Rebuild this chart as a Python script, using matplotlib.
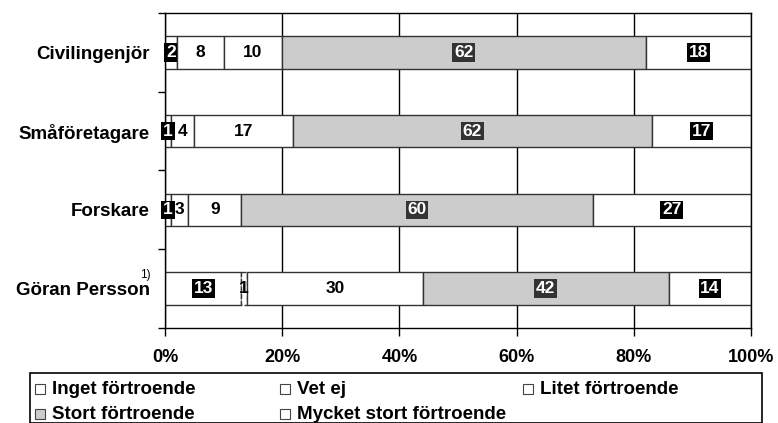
import numpy as np
import matplotlib.pyplot as plt
from matplotlib.patches import Rectangle

plt.rcParams['font.family'] = ['Liberation Sans', 'DejaVu Sans']
plt.rcParams['font.weight'] = 'bold'

# data
groups = ['Civilingenjör', 'Småföretagare', 'Forskare', 'Göran Persson']
series = ['Inget förtroende', 'Vet ej', 'Litet förtroende', 'Stort förtroende', 'Mycket stort förtroende']
inget = [2, 1, 1, 13]
vet_ej = [8, 4, 3, 1]
litet = [10, 17, 9, 30]
stort = [62, 62, 60, 42]
mycket = [18, 17, 27, 14]
xticks = [0, 20, 40, 60, 80, 100]

fills = ['white', 'white', 'white', '#cccccc', 'white']
lab_box = ['black', None, None, '#333333', 'black']
lab_col = ['white', 'black', 'black', 'white', 'white']

vals = np.array([inget, vet_ej, litet, stort, mycket], dtype=float)
pct = vals / vals.sum(axis=0) * 100  # 100% stacked, like excel

fig = plt.figure(figsize=(7.78, 4.23), dpi=100)
ax = fig.add_axes([165/778, 1-328/423, (751-165)/778, (328-13)/423])

y = np.arange(len(groups))
left = np.zeros(len(groups))
for i in range(len(series)):
    for j in range(len(groups)):
        ls = '--' if (i == 1 and groups[j] == 'Göran Persson') else '-'
        ax.barh(y[j], pct[i, j], left=left[j], height=0.41, color=fills[i],
                edgecolor='#333333', linewidth=1, linestyle=ls, zorder=2)
        cx = left[j] + pct[i, j] / 2
        if lab_box[i] is not None:
            bb = dict(boxstyle='square,pad=0.1', fc=lab_box[i], ec='none')
        else:
            bb = None
        ax.text(cx, y[j], '%d' % vals[i, j], ha='center', va='center',
                fontsize=12.5, fontweight='bold', color=lab_col[i], bbox=bb, zorder=4)
    left += pct[i]

ax.set_xlim(0, 100)
ax.set_ylim(len(groups) - 0.5, -0.5)
ax.set_xticks(xticks)
ax.set_xticklabels(['%d%%' % v for v in xticks], fontsize=13, fontweight='bold')
ax.tick_params(axis='x', length=6, width=1, pad=9, direction='out')
ax.set_yticks(np.arange(len(groups) + 1) - 0.5)
ax.set_yticklabels([])
ax.tick_params(axis='y', which='major', length=5, width=1, direction='out')
ax.set_yticks(y, minor=True)
ax.set_yticklabels(groups, minor=True, fontsize=13.5, fontweight='bold')
ax.tick_params(axis='y', which='minor', length=0, pad=11)
ax.grid(axis='x', color='black', linewidth=1, zorder=1)
ax.set_axisbelow(True)
for s in ax.spines.values():
    s.set_color('black')
    s.set_linewidth(1)

# footnote mark on Göran Persson
ax.annotate('1)', xy=(0, y[3]), xycoords=('axes fraction', 'data'),
            xytext=(-14, 10), textcoords='offset points', fontsize=8.5,
            fontweight='normal', ha='center', va='center')

# legend drawn by hand (excel layout)
W, H = 778, 423
fig.patches.append(Rectangle((30/W, 0), (762-30)/W, (H-373)/H, transform=fig.transFigure,
                             fill=False, ec='black', lw=1.2))
legend_x = [35, 280, 523, 35, 280]
legend_y = [389, 389, 389, 414, 414]
for k, name in enumerate(series):
    x0, yc = legend_x[k], legend_y[k]
    fig.patches.append(Rectangle((x0/W, 1-(yc+5)/H), 10/W, 10/H, transform=fig.transFigure,
                                 fc=fills[k], ec='#444444', lw=0.8))
    fig.text((x0+17)/W, 1-yc/H, name, fontsize=13.5, fontweight='bold', va='center', ha='left')

fig.savefig('out.png', dpi=100)
